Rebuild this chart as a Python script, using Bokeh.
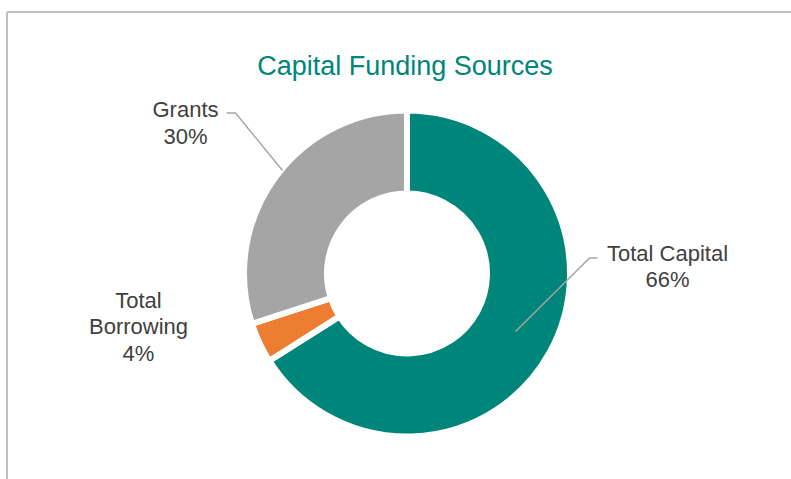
import numpy as np
from bokeh.plotting import figure
from bokeh.models import ColumnDataSource, Range1d
from bokeh.core.properties import value
from bokeh.embed import file_html
from bokeh.resources import INLINE

# ---- data ----
title_text = "Capital Funding Sources"
categories = ["Total Capital", "Total Borrowing", "Grants"]
label_lines = [["Total Capital"], ["Total", "Borrowing"], ["Grants"]]
shares = [66, 4, 30]
colors = ["#00857A", "#ED7D31", "#A5A5A5"]

# ---- layout (pixel space of the picture; y measured from top) ----
W, H = 791, 479


def Y(py):
    return H - py


CX, CY = 406.5, 273
R_OUT, R_IN = 163, 80
GAP = 6
LABEL_POS = {  # center x, first baseline y
    "Total Capital": (667, 252.5),
    "Total Borrowing": (138, 299.5),
    "Grants": (185, 109),
}
LINE_STEP = 26.5
LEADERS = {
    "Total Capital": [(597, 257.5), (589, 257.5), (515, 331)],
    "Grants": [(226, 112.5), (235, 112.5), (282, 170)],
}

p = figure(width=W, height=H, output_backend="svg", toolbar_location=None,
           x_range=Range1d(0, W), y_range=Range1d(0, H),
           x_axis_location=None, y_axis_location=None, min_border=0)
p.grid.visible = False
p.outline_line_color = None
p.background_fill_color = "white"
p.border_fill_color = "white"

# chart-area border (left and top edges visible)
p.line(x=[6.5, 6.5], y=[Y(479), Y(11.5)], line_color="#BFBFBF", line_width=2)
p.line(x=[6.5, 791], y=[Y(11.5), Y(11.5)], line_color="#BFBFBF", line_width=2)

# donut
frac = np.array(shares, dtype=float) / sum(shares)
cum = np.concatenate([[0.0], np.cumsum(frac)])
start = np.pi / 2 - 2 * np.pi * cum[:-1]
end = np.pi / 2 - 2 * np.pi * cum[1:]
src = ColumnDataSource(dict(start=start, end=end, color=colors, cat=categories))
p.annular_wedge(x=CX, y=Y(CY), inner_radius=R_IN, outer_radius=R_OUT,
                start_angle="start", end_angle="end", direction="clock",
                fill_color="color", line_color="white", line_width=GAP,
                source=src)

# leader lines
for cat, pts in LEADERS.items():
    p.line(x=[q[0] for q in pts], y=[Y(q[1]) for q in pts],
           line_color="#A6A6A6", line_width=1.5)

# labels
lx, ly, lt = [], [], []
for cat, lines, s in zip(categories, label_lines, shares):
    x0, y0 = LABEL_POS[cat]
    all_lines = lines + [f"{s}%"]
    for i, t in enumerate(all_lines):
        lx.append(x0)
        ly.append(Y(y0 + i * LINE_STEP))
        lt.append(t)
p.text(x=lx, y=ly, text=lt, text_align="center", text_baseline="alphabetic",
       text_font=value("Liberation Sans"), text_font_size="22px",
       text_color="#404040")

# title
p.text(x=[404.5], y=[Y(65)], text=[title_text], text_align="center",
       text_baseline="alphabetic", text_font=value("Liberation Sans"),
       text_font_size="27px", text_color="#00857A")

open("out.html", "w").write(file_html(p, INLINE))
